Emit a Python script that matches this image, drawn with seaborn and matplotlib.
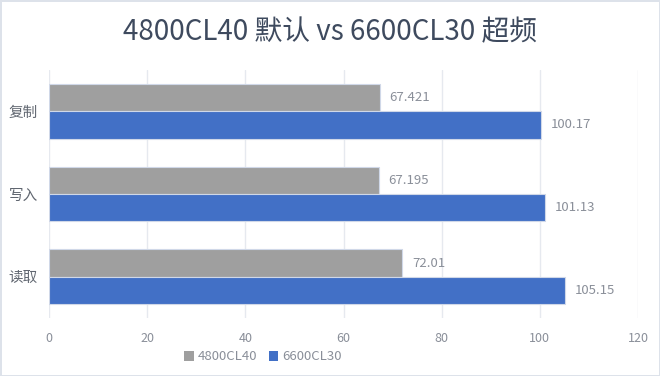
import matplotlib
matplotlib.use("Agg")
import matplotlib.pyplot as plt
import seaborn as sns
import pandas as pd
from matplotlib.patches import Patch

categories = ["复制", "写入", "读取"]
series_names = ["4800CL40", "6600CL30"]
values_4800 = [67.421, 67.195, 72.01]
values_6600 = [100.17, 101.13, 105.15]
label_4800 = ["67.421", "67.195", "72.01"]
label_6600 = ["100.17", "101.13", "105.15"]
x_ticks = [0, 20, 40, 60, 80, 100, 120]

sns.set_theme(style="white")
plt.rcParams['font.family'] = ['Noto Sans CJK SC', 'DejaVu Sans']

df = pd.DataFrame({
    "cat": categories * 2,
    "series": [series_names[0]] * 3 + [series_names[1]] * 3,
    "value": values_4800 + values_6600,
})

colors = ["#9f9f9f", "#4270c6"]
fig = plt.figure(figsize=(6.6, 3.76), dpi=100)
fig.patch.set_facecolor("white")
fig.patch.set_edgecolor("#dde2ea")
fig.patch.set_linewidth(2)
ax = fig.add_axes([49/660, 1-318/376, (638-49)/660, (318-70)/376])

sns.barplot(data=df, y="cat", x="value", hue="series", orient="h",
            palette=colors, width=0.66, ax=ax, legend=False, saturation=1,
            order=categories, hue_order=series_names,
            edgecolor="#d0d8e8", linewidth=0.8)

ax.set_xlim(0, 120)
ax.set_xticks(x_ticks)
ax.set_xticklabels([str(t) for t in x_ticks], color="#8a8f99", fontsize=9)
ax.set_ylim(2.5, -0.5)
ax.set_xlabel("")
ax.set_ylabel("")
ax.tick_params(axis="y", length=0, pad=8, labelsize=10.5, labelcolor="#606670")
ax.tick_params(axis="x", length=0, pad=10)
ax.grid(axis="x", color="#e6e9ef", linewidth=1)
ax.set_axisbelow(True)
for s in ax.spines.values():
    s.set_visible(False)

for cont, labs in zip(ax.containers, [label_4800, label_6600]):
    ax.bar_label(cont, labels=labs, padding=7, color="#8a8f99", fontsize=9.5)

fig.text(0.5, 1-32/376, "4800CL40 默认 vs 6600CL30 超频", ha="center", va="center",
         fontsize=20, color="#3e4a5e")

handles = [Patch(facecolor=c, edgecolor="none") for c in colors]
fig.legend(handles, series_names, loc="center", bbox_to_anchor=(263/660, 1-357/376),
           ncol=2, frameon=False, fontsize=9.5, labelcolor="#8a8f99",
           handlelength=0.7, handleheight=0.7, handletextpad=0.3, columnspacing=0.9)

fig.savefig("out.png", dpi=100, facecolor=fig.get_facecolor(), edgecolor=fig.get_edgecolor())
